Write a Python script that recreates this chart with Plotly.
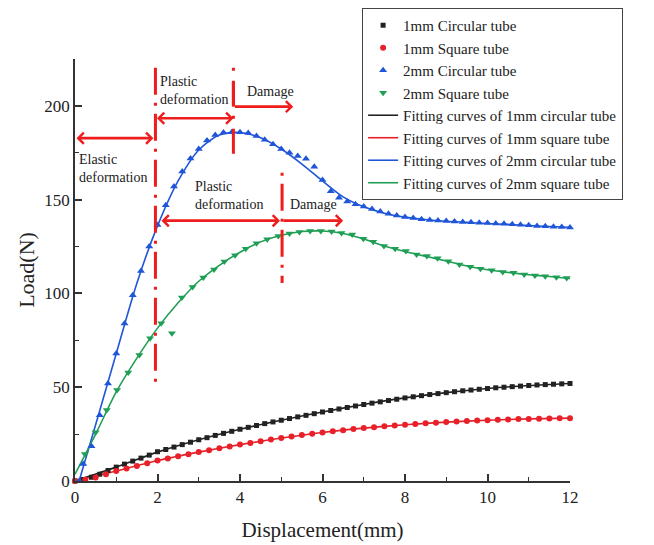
import plotly.graph_objects as go

# ---------------- data ----------------
black_x = [0.0, 0.2, 0.4, 0.6, 0.8, 1.0, 1.2, 1.4, 1.6, 1.8, 2.0, 2.2, 2.4, 2.6, 2.8, 3.0,
           3.2, 3.4, 3.6, 3.8, 4.0, 4.2, 4.4, 4.6, 4.8, 5.0, 5.2, 5.4, 5.6, 5.8, 6.0,
           6.2, 6.4, 6.6, 6.8, 7.0, 7.2, 7.4, 7.6, 7.8, 8.0, 8.2, 8.4, 8.6, 8.8, 9.0,
           9.2, 9.4, 9.6, 9.8, 10.0, 10.2, 10.4, 10.6, 10.8, 11.0, 11.2, 11.4, 11.6, 11.8, 12.0]
black_y = [0.0, 0.8, 2.0, 3.6, 5.6, 7.4, 9.0, 10.6, 12.2, 13.8, 15.6, 16.8, 18.1, 19.4, 20.7, 22.0,
           23.1, 24.3, 25.4, 26.5, 27.6, 28.6, 29.6, 30.6, 31.5, 32.4, 33.3, 34.2, 35.0, 35.9, 36.8,
           37.6, 38.4, 39.2, 40.0, 40.8, 41.5, 42.2, 42.9, 43.6, 44.3, 44.9, 45.5, 46.1, 46.6, 47.1,
           47.6, 48.1, 48.5, 48.9, 49.3, 49.7, 50.0, 50.3, 50.6, 50.9, 51.2, 51.4, 51.6, 51.8, 52.0]

red_x = [0.0, 0.25, 0.5, 0.75, 1.0, 1.25, 1.5, 1.75, 2.0, 2.25, 2.5, 2.75, 3.0, 3.25, 3.5, 3.75,
         4.0, 4.25, 4.5, 4.75, 5.0, 5.25, 5.5, 5.75, 6.0, 6.25, 6.5, 6.75, 7.0, 7.25, 7.5, 7.75,
         8.0, 8.25, 8.5, 8.75, 9.0, 9.25, 9.5, 9.75, 10.0, 10.25, 10.5, 10.75, 11.0, 11.25, 11.5, 11.75, 12.0]
red_y = [0.0, 0.7, 1.8, 3.6, 5.3, 6.6, 8.0, 9.5, 10.9, 12.0, 13.2, 14.3, 15.4, 16.4, 17.4, 18.4,
         19.4, 20.3, 21.2, 22.1, 22.9, 23.7, 24.5, 25.2, 25.9, 26.5, 27.1, 27.7, 28.2, 28.7, 29.2, 29.6,
         30.0, 30.4, 30.8, 31.1, 31.4, 31.7, 32.0, 32.2, 32.4, 32.6, 32.8, 33.0, 33.1, 33.2, 33.3, 33.4, 33.5]

blue_x = [0.1, 0.2, 0.4, 0.6, 0.8, 1.0, 1.2, 1.4, 1.6, 1.8, 2.0, 2.2, 2.4, 2.6, 2.8, 3.0,
          3.2, 3.4, 3.6, 3.8, 4.0, 4.2, 4.4, 4.6, 4.8, 5.0, 5.2, 5.4, 5.6, 5.8, 6.0,
          6.2, 6.4, 6.6, 6.8, 7.0, 7.2, 7.4, 7.6, 7.8, 8.0, 8.2, 8.4, 8.6, 8.8, 9.0,
          9.2, 9.4, 9.6, 9.8, 10.0, 10.2, 10.4, 10.6, 10.8, 11.0, 11.2, 11.4, 11.6, 11.8, 12.0]
blue_y = [0.0, 9.0, 18.5, 35.0, 52.0, 68.0, 84.0, 99.0, 112.0, 125.0, 136.5, 147.0, 157.0, 165.0, 172.0, 177.0,
          181.5, 184.5, 185.8, 186.0, 186.0, 185.5, 184.0, 182.0, 179.5, 177.0, 175.0, 173.3, 171.8, 167.5, 160.5,
          154.5, 151.0, 149.0, 147.6, 146.3, 145.0, 143.7, 142.5, 141.5, 140.8, 140.2, 139.6, 139.2, 138.9, 138.6,
          138.3, 138.1, 137.9, 137.7, 137.5, 137.3, 137.1, 136.9, 136.6, 136.3, 136.0, 135.8, 135.6, 135.4, 135.2]

green_x = [0.24, 0.5, 0.77, 1.02, 1.29, 1.56, 1.82, 2.09, 2.35, 2.59, 2.85, 3.11, 3.37, 3.62, 3.88,
           4.14, 4.4, 4.66, 4.93, 5.2, 5.44, 5.7, 5.96, 6.22, 6.46, 6.72, 6.99, 7.23, 7.49, 7.76,
           8.02, 8.28, 8.53, 8.79, 9.05, 9.32, 9.58, 9.83, 10.1, 10.37, 10.63, 10.89, 11.15, 11.4, 11.67, 11.92]
green_y = [14.4, 26.0, 37.9, 48.5, 57.9, 67.2, 76.1, 84.1, 78.8, 97.8, 103.5, 108.5, 112.8, 117.0, 120.3,
           123.8, 126.8, 128.9, 130.6, 132.0, 132.8, 133.3, 133.3, 133.0, 132.2, 131.4, 129.2, 127.5, 125.3, 123.8,
           122.6, 120.8, 119.9, 118.7, 117.2, 115.4, 114.2, 113.1, 112.4, 111.5, 111.0, 110.1, 109.6, 109.2, 108.7, 108.3]

fit_black_x = [0, 1, 2, 3, 4, 5, 6, 7, 8, 9, 10, 11, 12]
fit_black_y = [0.0, 7.4, 15.4, 22.0, 27.6, 32.4, 36.8, 40.8, 44.3, 47.1, 49.3, 50.9, 52.0]
fit_red_x = [0, 1, 2, 3, 4, 5, 6, 7, 8, 9, 10, 11, 12]
fit_red_y = [0.0, 5.3, 10.9, 15.4, 19.4, 22.9, 25.9, 28.2, 30.0, 31.4, 32.4, 33.1, 33.5]
fit_blue_x = [0.1, 0.5, 1.0, 1.5, 2.0, 2.5, 3.0, 3.5, 4.0, 4.5, 5.0, 5.5, 6.0, 6.5, 7.0, 7.5,
              8.0, 8.5, 9.0, 9.5, 10.0, 10.5, 11.0, 11.5, 12.0]
fit_blue_y = [0.0, 30.0, 68.0, 105.5, 136.0, 160.0, 176.5, 184.5, 185.8, 183.0, 177.0, 169.0, 160.0,
              151.5, 146.2, 142.8, 140.7, 139.4, 138.5, 137.9, 137.3, 136.8, 136.2, 135.7, 135.3]
fit_green_x = [0.0, 0.5, 1.0, 1.5, 2.0, 2.5, 3.0, 3.5, 4.0, 4.5, 5.0, 5.5, 6.0, 6.5, 7.0, 7.5,
               8.0, 8.5, 9.0, 9.5, 10.0, 10.5, 11.0, 11.5, 12.0]
fit_green_y = [3.6, 25.0, 47.5, 65.5, 81.5, 95.0, 106.5, 115.0, 122.0, 127.5, 131.0, 133.0, 133.3,
               132.0, 129.0, 125.3, 122.4, 119.8, 117.3, 114.6, 112.6, 111.2, 110.0, 109.0, 108.0]

series_names = ["1mm Circular tube", "1mm Square tube", "2mm Circular tube", "2mm Square tube"]
fit_names = ["Fitting curves of 1mm circular tube", "Fitting curves of 1mm square tube",
             "Fitting curves of 2mm circular tube", "Fitting curves of 2mm square tube"]

# ---------------- styling ----------------
BLACK = "#222222"
RED = "#e8202a"
BLUE = "#1f55d8"
GREEN = "#1f9e55"
ARROW = "#ee1c1c"
FONT = "Liberation Serif"

fig = go.Figure()

fits = [(fit_black_x, fit_black_y, BLACK), (fit_red_x, fit_red_y, RED),
        (fit_blue_x, fit_blue_y, BLUE), (fit_green_x, fit_green_y, GREEN)]
for i, (fx, fy, c) in enumerate(fits):
    fig.add_trace(go.Scatter(x=fx, y=fy, mode="lines", name=fit_names[i],
                             line=dict(color=c, width=1.6, shape="spline", smoothing=0.8),
                             legendrank=5 + i, cliponaxis=False))

pts = [(black_x, black_y, BLACK, "square", 5), (red_x, red_y, RED, "circle", 6),
       (blue_x, blue_y, BLUE, "triangle-up", 7), (green_x, green_y, GREEN, "triangle-down", 7)]
for i, (px, py, c, sym, sz) in enumerate(pts):
    fig.add_trace(go.Scatter(x=px, y=py, mode="markers", name=series_names[i],
                             marker=dict(color=c, symbol=sym, size=sz, line=dict(width=0)),
                             legendrank=1 + i, cliponaxis=False))

# vertical dash-dot dividers
for (xv, y0, y1, dash) in [(1.95, 220.3, 50.0, "27px,8px,3px,8px"),
                           (3.84, 220.3, 174.0, "3px,10px,25px,10px"),
                           (5.02, 164.3, 105.6, "3px,8px,27px,8px")]:
    fig.add_shape(type="line", xref="x", yref="y", x0=xv, x1=xv, y0=y0, y1=y1,
                  line=dict(color=ARROW, width=3, dash=dash))

# arrows
def arrow(x0, x1, y, both):
    fig.add_annotation(x=x1, y=y, ax=x0, ay=y, xref="x", yref="y", axref="x", ayref="y",
                       text="", showarrow=True, arrowhead=4, startarrowhead=4,
                       arrowside="end+start" if both else "end",
                       arrowsize=0.8, startarrowsize=0.8, arrowwidth=2.7, arrowcolor=ARROW)

arrow(0.0, 1.90, 182.8, True)
arrow(1.95, 3.84, 193.4, True)
arrow(3.84, 5.29, 199.6, False)
arrow(2.06, 4.97, 138.8, True)
arrow(5.02, 6.50, 138.8, False)
# corner stub of upper Damage arrow
fig.add_shape(type="line", xref="x", yref="y", x0=3.84, x1=3.84, y0=213.0, y1=199.6,
              line=dict(color=ARROW, width=3))

def label(x, y, txt, anchor="left"):
    fig.add_annotation(x=x, y=y, xref="x", yref="y", text=txt, showarrow=False,
                       xanchor=anchor, yanchor="top", align="left",
                       font=dict(family=FONT, size=14, color="#222222"))

label(0.04, 176.5, "Elastic<br>deformation")
label(2.02, 218.0, "Plastic<br>deformation")
label(4.13, 213.0, "Damage")
label(2.86, 162.0, "Plastic<br>deformation")
label(5.17, 152.5, "Damage")

axis_common = dict(showline=True, linecolor="#333333", linewidth=1.5, mirror=False,
                   showgrid=False, zeroline=False, ticks="inside", ticklen=7,
                   tickwidth=1.5, tickcolor="#333333",
                   tickfont=dict(family=FONT, size=17, color="#222222"))

fig.update_layout(
    width=654, height=545, autosize=False,
    margin=dict(l=67, r=92, t=51, b=72, autoexpand=False),
    paper_bgcolor="white", plot_bgcolor="white",
    xaxis=dict(range=[0, 12], tickmode="array", tickvals=[0, 2, 4, 6, 8, 10, 12],
               minor=dict(ticks="inside", tickvals=[1, 3, 5, 7, 9, 11], ticklen=4,
                          tickwidth=1.2, tickcolor="#333333"),
               title=dict(text="Displacement(mm)", standoff=16,
                          font=dict(family=FONT, size=21, color="#222222")),
               automargin=False, **axis_common),
    yaxis=dict(range=[0, 225], tickmode="array", tickvals=[0, 50, 100, 150, 200],
               minor=dict(ticks="inside", tickvals=[25, 75, 125, 175, 225], ticklen=4,
                          tickwidth=1.2, tickcolor="#333333"),
               title=dict(text="Load(N)", standoff=4,
                          font=dict(family=FONT, size=22, color="#222222")),
               automargin=False, **axis_common),
    legend=dict(x=0.58, y=1.1209, xanchor="left", yanchor="top",
                bgcolor="white", bordercolor="#444444", borderwidth=1,
                font=dict(family=FONT, size=15, color="#222222"),
                traceorder="normal"),
    showlegend=True,
)

fig.write_html("out.html")
